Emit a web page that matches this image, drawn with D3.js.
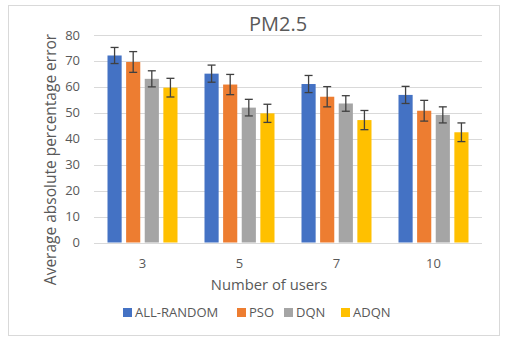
<!DOCTYPE html>
<html>
<head>
<meta charset="utf-8">
<script src="https://cdn.jsdelivr.net/npm/d3@7"></script>
<style>
  body { margin: 0; background: #fff; }
  text { font-family: "Open Sans", "Noto Sans", sans-serif; fill: #595959; }
</style>
</head>
<body>
<div id="chart"></div>
<script>
// chart values
var categories = ["3", "5", "7", "10"];
var seriesNames = ["ALL-RANDOM", "PSO", "DQN", "ADQN"];
var colors = ["#4472c4", "#ed7d31", "#a5a5a5", "#ffc000"];
var values = [
    [72.1, 65.1, 61.1, 56.9],
    [69.6, 60.9, 56.2, 50.8],
    [63.1, 52.0, 53.6, 49.2],
    [59.7, 49.8, 47.2, 42.5]
];
var errors = [
    [3.1, 3.3, 3.3, 3.3],
    [4.0, 3.9, 3.9, 4.0],
    [3.1, 3.2, 3.0, 3.1],
    [3.6, 3.5, 3.7, 3.6]
];
var yTicks = [0, 10, 20, 30, 40, 50, 60, 70, 80];

var width = 519, height = 345;
var plot = {left: 94, right: 482, top: 35, bottom: 242.5};

var svg = d3.select("#chart")
    .append("svg")
    .attr("width", width)
    .attr("height", height);

// outer border
svg.append("rect")
    .attr("x", 8.5)
    .attr("y", 5.5)
    .attr("width", 491)
    .attr("height", 330)
    .style("fill", "#fff")
    .style("stroke", "#d9d9d9")
    .style("stroke-width", 1);

var x0 = d3.scaleBand()
    .domain(categories)
    .range([plot.left, plot.right]);

var x1 = d3.scaleBand()
    .domain(seriesNames)
    .range([0, 70])
    .paddingInner(0.24);

var y = d3.scaleLinear()
    .domain([0, 80])
    .range([plot.bottom, plot.top]);

// gridlines
svg.append("g")
    .selectAll("line")
    .data(yTicks)
    .enter()
    .append("line")
    .attr("x1", plot.left)
    .attr("x2", plot.right)
    .attr("y1", function (d) { return Math.round(y(d)) + 0.5; })
    .attr("y2", function (d) { return Math.round(y(d)) + 0.5; })
    .style("stroke", "#d9d9d9")
    .style("stroke-width", 1);

// y tick labels
svg.append("g")
    .selectAll("text")
    .data(yTicks)
    .enter()
    .append("text")
    .attr("x", 80)
    .attr("y", function (d) { return y(d); })
    .attr("dy", "0.35em")
    .attr("text-anchor", "end")
    .attr("font-size", 13)
    .text(function (d) { return d; });

// bars
var groups = svg.append("g")
    .selectAll("g")
    .data(categories)
    .enter()
    .append("g")
    .attr("transform", function (d) {
        return "translate(" + (x0(d) + x0.bandwidth() / 2 - 35) + ",0)";
    });

groups.each(function (cat, ci) {
    var g = d3.select(this);
    seriesNames.forEach(function (s, si) {
        var v = values[si][ci];
        var e = errors[si][ci];
        var bx = x1(s);
        var bw = x1.bandwidth();
        g.append("rect")
            .attr("x", bx)
            .attr("y", y(v))
            .attr("width", bw)
            .attr("height", y(0) - y(v))
            .style("fill", colors[si]);
        var cx = bx + bw / 2;
        g.append("line")
            .attr("x1", cx).attr("x2", cx)
            .attr("y1", y(v + e)).attr("y2", y(v - e))
            .style("stroke", "#404040")
            .style("stroke-width", 1.3);
        [v + e, v - e].forEach(function (t) {
            g.append("line")
                .attr("x1", cx - 4).attr("x2", cx + 4)
                .attr("y1", y(t)).attr("y2", y(t))
                .style("stroke", "#404040")
                .style("stroke-width", 1.3);
        });
    });
});

// x tick labels
svg.append("g")
    .selectAll("text")
    .data(categories)
    .enter()
    .append("text")
    .attr("x", function (d) { return x0(d) + x0.bandwidth() / 2; })
    .attr("y", 263)
    .attr("dy", "0.35em")
    .attr("text-anchor", "middle")
    .attr("font-size", 13)
    .text(function (d) { return d; });

// title
svg.append("text")
    .attr("x", 278)
    .attr("y", 31)
    .attr("text-anchor", "middle")
    .attr("font-size", 20)
    .text("PM2.5");

// axis titles
svg.append("text")
    .attr("x", 269)
    .attr("y", 285)
    .attr("dy", "0.35em")
    .attr("text-anchor", "middle")
    .attr("font-size", 14.8)
    .text("Number of users");

svg.append("text")
    .attr("transform", "translate(51,159.5) rotate(-90)")
    .attr("dy", "0.35em")
    .attr("text-anchor", "middle")
    .attr("font-size", 15.5)
    .text("Average absolute percentage error");

// legend
var legendX = [123, 237, 284, 341];
var legend = svg.append("g")
    .selectAll("g")
    .data(seriesNames)
    .enter()
    .append("g")
    .attr("transform", function (d, i) { return "translate(" + legendX[i] + ",308)"; });

legend.append("rect")
    .attr("width", 9)
    .attr("height", 9)
    .style("fill", function (d, i) { return colors[i]; });

legend.append("text")
    .attr("x", 12)
    .attr("y", 4.5)
    .attr("dy", "0.35em")
    .attr("font-size", 13)
    .text(function (d) { return d; });
</script>
</body>
</html>
